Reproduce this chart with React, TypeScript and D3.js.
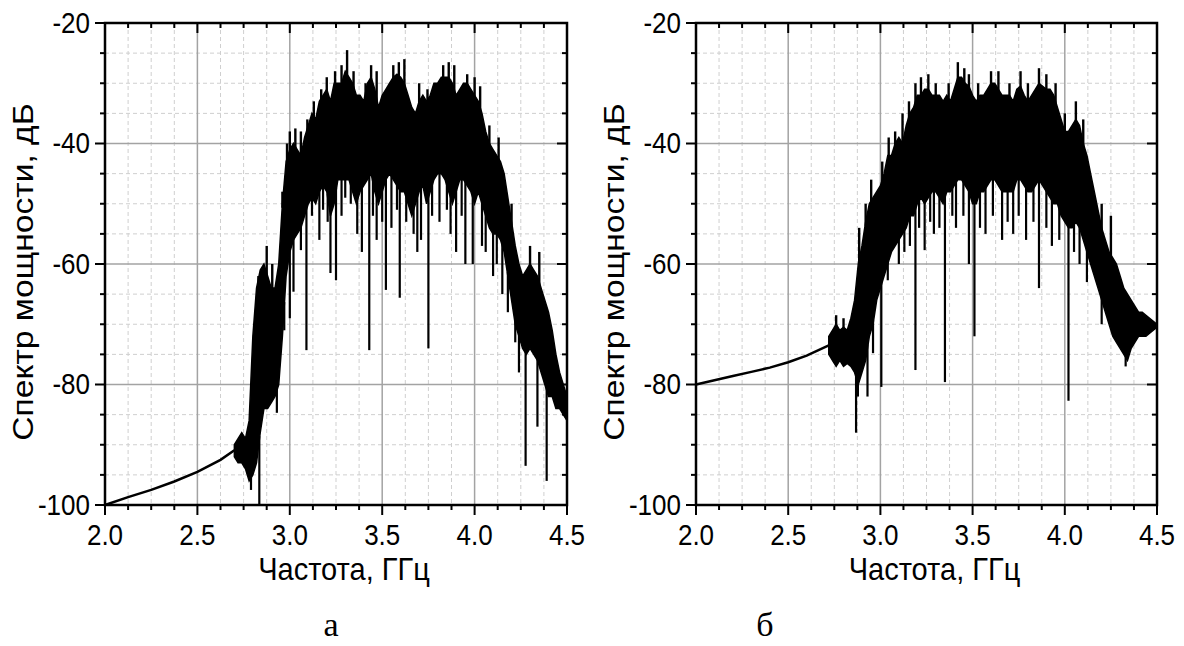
import React from 'react';
import * as d3 from 'd3';

// ---------- data ----------
const FREQ_TICKS = [2.0, 2.5, 3.0, 3.5, 4.0, 4.5];
const DB_TICKS = [-20, -40, -60, -80, -100];
const X_TITLE = 'Частота, ГГц';
const Y_TITLE = 'Спектр мощности, дБ';
const PANEL_LETTERS = ['а', 'б'];

// panel а : smooth low-frequency part [GHz, dB]
const smoothA: [number, number][] = [
  [2.0, -100], [2.125, -98.7], [2.25, -97.5], [2.375, -96.1], [2.5, -94.5],
  [2.625, -92.5], [2.7, -90.9],
];
// panel а : dense band [GHz, top dB, bottom dB]
const bandA: [number, number, number][] = [
  [2.70, -90, -92], [2.72, -89, -93], [2.74, -88, -93], [2.76, -89, -94], [2.78, -86, -96],
  [2.80, -72, -95], [2.82, -64, -93], [2.84, -61, -88], [2.86, -60, -84], [2.88, -62, -84],
  [2.90, -64, -83], [2.92, -64, -82], [2.94, -60, -80], [2.96, -50, -72], [2.98, -43, -62],
  [3.00, -41, -58], [3.02, -40, -56], [3.04, -41, -55], [3.06, -42, -54], [3.08, -39, -52],
  [3.10, -37, -50], [3.12, -35, -49], [3.14, -36, -50], [3.16, -33, -48], [3.18, -32, -47],
  [3.20, -31, -48], [3.22, -33, -52], [3.24, -30, -50], [3.26, -30, -46], [3.28, -30, -46],
  [3.30, -28, -46], [3.32, -29, -46], [3.34, -30, -48], [3.36, -32, -50], [3.38, -32, -48],
  [3.40, -33, -47], [3.42, -30, -46], [3.44, -29, -45], [3.46, -31, -48], [3.48, -34, -50],
  [3.50, -32, -48], [3.52, -31, -46], [3.54, -30, -45], [3.56, -29, -46], [3.58, -28.5, -47],
  [3.60, -29, -48], [3.62, -30, -48], [3.64, -32, -50], [3.66, -34, -52], [3.68, -35, -50],
  [3.70, -33, -48], [3.72, -32, -47], [3.74, -33, -50], [3.76, -32, -48], [3.78, -30, -46],
  [3.80, -30, -45], [3.82, -29, -45], [3.84, -29, -46], [3.86, -29, -48], [3.88, -30, -50],
  [3.90, -32, -48], [3.92, -31, -46], [3.94, -30, -46], [3.96, -30, -47], [3.98, -31, -48],
  [4.00, -32, -50], [4.02, -33, -48], [4.04, -35, -50], [4.06, -38, -52], [4.08, -40, -54],
  [4.10, -41, -55], [4.12, -42, -55], [4.14, -43, -56], [4.16, -45, -58], [4.18, -49, -62],
  [4.20, -53, -66], [4.22, -57, -70], [4.24, -60, -72], [4.26, -62, -74], [4.28, -61, -75],
  [4.30, -60, -74], [4.32, -61, -75], [4.34, -62, -76], [4.36, -64, -78], [4.38, -66, -80],
  [4.40, -68, -82], [4.42, -71, -82], [4.44, -75, -84], [4.46, -78, -84], [4.48, -80, -85],
  [4.50, -82, -86],
];
// panel а : narrow peaks above the band [GHz, dB]
const peaksA: [number, number][] = [
  [2.83, -62], [2.875, -57], [2.905, -60], [2.96, -48], [2.985, -40], [3.0, -38],
  [3.03, -37.5], [3.06, -38], [3.095, -36], [3.13, -33], [3.17, -31], [3.2, -29],
  [3.245, -28], [3.28, -27], [3.31, -24.5], [3.345, -28], [3.41, -30], [3.44, -27],
  [3.47, -28], [3.56, -27], [3.59, -26.5], [3.62, -26], [3.7, -30], [3.745, -31],
  [3.83, -27], [3.86, -26.5], [3.89, -27], [3.96, -28.5], [4.0, -29], [4.03, -30.5],
  [4.08, -37], [4.13, -39], [4.2, -50], [4.3, -57], [4.35, -58],
];
// panel а : narrow dips below the band [GHz, dB]
const spikesA: [number, number][] = [
  [2.79, -97.5], [2.835, -100], [2.865, -84], [2.93, -84.7], [2.97, -71], [3.0, -69],
  [3.02, -64.6], [3.035, -50], [3.06, -57.7], [3.09, -74.3], [3.12, -52], [3.16, -56],
  [3.18, -51], [3.205, -53], [3.22, -61.5], [3.25, -62.7], [3.28, -52], [3.3, -49],
  [3.33, -50], [3.365, -55], [3.39, -58], [3.43, -74.3], [3.45, -52], [3.47, -56],
  [3.5, -53], [3.52, -64.3], [3.55, -54], [3.58, -51], [3.595, -65.6], [3.63, -53],
  [3.67, -55], [3.69, -58], [3.71, -56], [3.75, -74], [3.77, -52], [3.81, -53],
  [3.85, -51], [3.87, -55], [3.9, -58], [3.93, -52], [3.95, -60], [3.99, -60],
  [4.04, -57], [4.06, -58], [4.1, -62], [4.12, -60], [4.15, -65], [4.18, -68],
  [4.22, -73], [4.24, -78], [4.276, -93.5], [4.34, -87], [4.39, -96],
];

// panel б
const smoothB: [number, number][] = [
  [2.0, -80], [2.1, -79.3], [2.2, -78.6], [2.3, -77.9], [2.4, -77.2], [2.5, -76.3],
  [2.6, -75.2], [2.72, -73.5],
];
const bandB: [number, number, number][] = [
  [2.72, -72, -75], [2.74, -71, -76], [2.76, -70, -77], [2.78, -71, -76], [2.80, -70.5, -77],
  [2.82, -71, -76.5], [2.84, -69, -77], [2.86, -66, -78], [2.88, -60, -80], [2.90, -57, -78],
  [2.92, -53, -76], [2.94, -50, -72], [2.96, -49, -70], [2.98, -48, -66], [3.00, -47, -64],
  [3.02, -45, -62], [3.04, -42, -60], [3.06, -42, -58], [3.08, -40, -57], [3.10, -39, -56],
  [3.12, -40, -55], [3.14, -37, -54], [3.16, -35, -52], [3.18, -34, -52], [3.20, -32, -50],
  [3.22, -32, -49], [3.24, -31, -50], [3.26, -31, -49], [3.28, -32, -48], [3.30, -32, -48],
  [3.32, -32, -49], [3.34, -33, -50], [3.36, -32, -48], [3.38, -33, -48], [3.40, -31, -47],
  [3.42, -29, -46], [3.44, -29, -46], [3.46, -30, -47], [3.48, -30.5, -48], [3.50, -32, -50],
  [3.52, -33, -50], [3.54, -32, -48], [3.56, -32, -48], [3.58, -31, -47], [3.60, -30, -46],
  [3.62, -30, -46], [3.64, -31, -47], [3.66, -32, -48], [3.68, -32, -48], [3.70, -32, -48],
  [3.72, -33, -48], [3.74, -31, -46], [3.76, -30.5, -46], [3.78, -32, -47], [3.80, -33, -48],
  [3.82, -32, -48], [3.84, -31, -47], [3.86, -30, -46], [3.88, -30.5, -47], [3.90, -31, -48],
  [3.92, -31, -49], [3.94, -32, -50], [3.96, -34, -50], [3.98, -36, -52], [4.00, -38, -53],
  [4.02, -38, -54], [4.04, -37, -54], [4.06, -36, -53], [4.08, -37, -54], [4.10, -40, -56],
  [4.12, -42, -58], [4.14, -45, -60], [4.16, -48, -62], [4.18, -51, -64], [4.20, -54, -66],
  [4.22, -56, -68], [4.24, -58, -70], [4.26, -59, -72], [4.28, -60, -73], [4.30, -62, -74],
  [4.32, -64, -75], [4.34, -65, -76], [4.36, -66, -74], [4.38, -67, -73], [4.40, -68, -72],
  [4.42, -68, -72], [4.44, -68.5, -72], [4.46, -69, -71.5], [4.48, -69.5, -71], [4.50, -70, -70.5],
];
const peaksB: [number, number][] = [
  [2.76, -68.5], [2.8, -69], [2.885, -54], [2.92, -50], [2.95, -46], [3.01, -43],
  [3.045, -39], [3.08, -38], [3.12, -35], [3.155, -33], [3.19, -30], [3.22, -29],
  [3.26, -28.5], [3.3, -30], [3.37, -30], [3.42, -26.5], [3.455, -27.5], [3.48, -28.5],
  [3.53, -30], [3.6, -28], [3.64, -28], [3.7, -30], [3.76, -28], [3.8, -30], [3.86, -27.5],
  [3.9, -28.5], [3.95, -30], [4.0, -35], [4.06, -33], [4.1, -36], [4.2, -50], [4.25, -52],
];
const spikesB: [number, number][] = [
  [2.868, -88], [2.878, -82], [2.93, -82], [2.96, -74.8], [3.005, -80.4], [3.04, -62.7],
  [3.07, -56.5], [3.1, -60], [3.13, -58], [3.16, -57], [3.19, -77.6], [3.21, -54],
  [3.24, -57.7], [3.27, -53], [3.29, -55], [3.32, -54], [3.35, -79.6], [3.39, -52],
  [3.41, -54], [3.45, -52], [3.48, -60], [3.51, -72], [3.54, -54], [3.57, -55],
  [3.61, -52], [3.66, -56], [3.69, -53], [3.72, -55], [3.75, -52], [3.79, -56],
  [3.83, -53], [3.86, -64], [3.9, -54], [3.93, -57], [3.97, -56], [4.02, -82.7],
  [4.05, -58], [4.08, -60], [4.12, -63], [4.2, -70], [4.33, -77],
];

// ---------- layout ----------
const W = 1184;
const H = 646;
const TOP = 23;
const BOTTOM = 505;
const PANELS = [
  { left: 105, right: 567, smooth: smoothA, band: bandA, peaks: peaksA, spikes: spikesA, letterX: 331 },
  { left: 696, right: 1157, smooth: smoothB, band: bandB, peaks: peaksB, spikes: spikesB, letterX: 765 },
];
const FONT = '"Liberation Sans", Arial, sans-serif';

function Panel({ p, letter }: { p: typeof PANELS[number]; letter: string }) {
  const x = d3.scaleLinear().domain([2.0, 4.5]).range([p.left, p.right]);
  const y = d3.scaleLinear().domain([-100, -20]).range([BOTTOM, TOP]);
  const minorX = d3.range(0, 21).map((i) => 2.0 + i * 0.125);
  const minorY = d3.range(0, 17).map((i) => -100 + i * 5);
  const line = d3.line<[number, number]>().x((d) => x(d[0])).y((d) => y(d[1]));
  const area = d3
    .area<[number, number, number]>()
    .x((d) => x(d[0]))
    .y0((d) => y(d[2]))
    .y1((d) => y(d[1]));
  const bandAt = (f: number, k: 1 | 2) => {
    const b = p.band;
    const i = d3.bisector((d: [number, number, number]) => d[0]).left(b, f);
    const j = Math.min(Math.max(i, 1), b.length - 1);
    const a0 = b[j - 1], a1 = b[j];
    const t = Math.max(0, Math.min(1, (f - a0[0]) / (a1[0] - a0[0])));
    return a0[k] + (a1[k] - a0[k]) * t;
  };
  const isMajorX = (v: number) => FREQ_TICKS.some((t) => Math.abs(t - v) < 1e-6);
  const isMajorY = (v: number) => DB_TICKS.some((t) => Math.abs(t - v) < 1e-6);
  const cx = (p.left + p.right) / 2;
  return (
    <g>
      {minorX.filter((v) => !isMajorX(v)).map((v) => (
        <line key={'gx' + v} x1={x(v)} x2={x(v)} y1={TOP} y2={BOTTOM} stroke="#cfcfcf" strokeWidth={1} strokeDasharray="4,3" />
      ))}
      {minorY.filter((v) => !isMajorY(v)).map((v) => (
        <line key={'gy' + v} x1={p.left} x2={p.right} y1={y(v)} y2={y(v)} stroke="#cfcfcf" strokeWidth={1} strokeDasharray="4,3" />
      ))}
      {FREQ_TICKS.slice(1, -1).map((v) => (
        <line key={'Gx' + v} x1={x(v)} x2={x(v)} y1={TOP} y2={BOTTOM} stroke="#a3a3a3" strokeWidth={1.5} />
      ))}
      {DB_TICKS.slice(1, -1).map((v) => (
        <line key={'Gy' + v} x1={p.left} x2={p.right} y1={y(v)} y2={y(v)} stroke="#a3a3a3" strokeWidth={1.5} />
      ))}
      <path d={line(p.smooth) || ''} fill="none" stroke="#000" strokeWidth={2.5} />
      <path d={area(p.band) || ''} fill="#000" stroke="#000" strokeWidth={1.5} strokeLinejoin="miter" />
      {p.peaks.map(([f, v], i) => (
        <line key={'p' + i} x1={x(f)} x2={x(f)} y1={y(bandAt(f, 1)) + 4} y2={y(v)} stroke="#000" strokeWidth={2.4} />
      ))}
      {p.spikes.map(([f, v], i) => (
        <line key={'s' + i} x1={x(f)} x2={x(f)} y1={y(bandAt(f, 2)) - 4} y2={y(v)} stroke="#000" strokeWidth={2.2} />
      ))}
      {minorX.map((v) => {
        const len = isMajorX(v) ? 10 : 5;
        return (
          <g key={'tx' + v}>
            <line x1={x(v)} x2={x(v)} y1={BOTTOM} y2={BOTTOM + len} stroke="#000" strokeWidth={2} />
            <line x1={x(v)} x2={x(v)} y1={TOP} y2={TOP + len} stroke="#000" strokeWidth={2} />
          </g>
        );
      })}
      {minorY.map((v) => {
        const len = isMajorY(v) ? 10 : 5;
        return (
          <g key={'ty' + v}>
            <line x1={p.left - len} x2={p.left} y1={y(v)} y2={y(v)} stroke="#000" strokeWidth={2} />
            <line x1={p.right - len} x2={p.right} y1={y(v)} y2={y(v)} stroke="#000" strokeWidth={2} />
          </g>
        );
      })}
      <rect x={p.left} y={TOP} width={p.right - p.left} height={BOTTOM - TOP} fill="none" stroke="#000" strokeWidth={2.5} />
      {FREQ_TICKS.map((v) => (
        <text key={'lx' + v} transform={`translate(${x(v)},${BOTTOM + 40}) scale(1,1.1)`} textAnchor="middle" fontFamily={FONT} fontSize={26} fill="#000">
          {v.toFixed(1)}
        </text>
      ))}
      {DB_TICKS.map((v) => (
        <text key={'ly' + v} transform={`translate(${p.left - 15},${y(v) + 9.5}) scale(1,1.1)`} textAnchor="end" fontFamily={FONT} fontSize={26} fill="#000">
          {String(v)}
        </text>
      ))}
      <text transform={`translate(${cx + 8},${580}) scale(1,1.1)`} textAnchor="middle" fontFamily={FONT} fontSize={29} fill="#000">
        {X_TITLE}
      </text>
      <text transform={`translate(${p.left - 72},${272}) rotate(-90) scale(1.12,1)`} textAnchor="middle" fontFamily={FONT} fontSize={30} fill="#000">
        {Y_TITLE}
      </text>
      <text x={p.letterX} y={636} textAnchor="middle" fontFamily='"Liberation Serif", "Times New Roman", serif' fontSize={34} fill="#000">
        {letter}
      </text>
    </g>
  );
}

export default function App() {
  return (
    <svg width={W} height={H} viewBox={`0 0 ${W} ${H}`} style={{ position: 'absolute', left: 0, top: 0, background: '#fff' }}>
      <rect x={0} y={0} width={W} height={H} fill="#fff" />
      {PANELS.map((p, i) => (
        <Panel key={i} p={p} letter={PANEL_LETTERS[i]} />
      ))}
    </svg>
  );
}
